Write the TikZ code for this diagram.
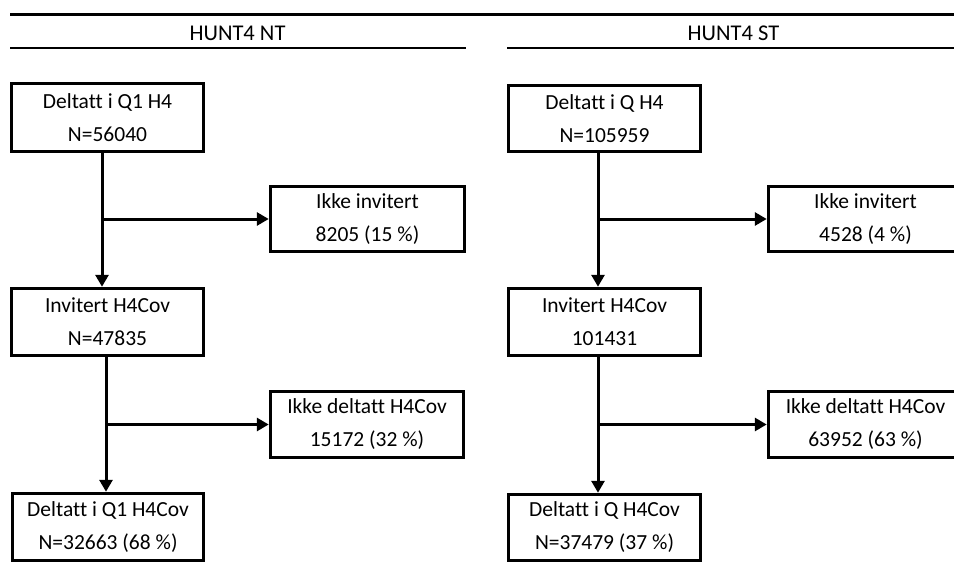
\documentclass[tikz,border=0pt]{standalone}
\usepackage{fontspec}
\setmainfont[Ligatures=NoCommon]{Carlito}
\usetikzlibrary{arrows.meta}
\begin{document}
\begin{tikzpicture}[x=1pt,y=-1pt,
  box/.style={draw=black,line width=3.5pt,inner sep=0pt,align=center,
    font=\fontsize{21.5}{33}\selectfont},
  arr/.style={draw=black,line width=3pt,-{Triangle[length=12pt,width=13pt]}},
  rule/.style={draw=black,line width=3pt},
  title/.style={font=\fontsize{22.5}{24}\selectfont,inner sep=0pt}]
\clip (0,0) rectangle (954,586);
\fill[white] (0,0) rectangle (954,586);
% header
\draw[rule] (10,15) -- (954,15);
\draw[rule,line width=2.5pt] (10,48) -- (466,48);
\draw[rule,line width=2.5pt] (507,48) -- (954,48);
\node[title] (tNT) at (237.5,33) {HUNT4 NT};
\node[title] (tST) at (733.5,33) {HUNT4 ST};
% left column
\node[box,minimum width=192pt,minimum height=68pt] (L1) at (107.5,117.5) {Deltatt i Q1 H4\\N=56040};
\node[box,minimum width=194pt,minimum height=65pt] (LI) at (367.5,219) {Ikke invitert\\8205 (15 \%)};
\node[box,minimum width=192pt,minimum height=67pt] (L2) at (107.5,322) {Invitert H4Cov\\N=47835};
\node[box,minimum width=193pt,minimum height=66pt] (LD) at (367,424.5) {Ikke deltatt H4Cov\\15172 (32 \%)};
\node[box,minimum width=191pt,minimum height=67pt] (L3) at (108,527) {Deltatt i Q1 H4Cov\\N=32663 (68 \%)};
% right column
\node[box,minimum width=192pt,minimum height=66pt] (R1) at (604.5,118.5) {Deltatt i Q H4\\N=105959};
\node[box,minimum width=194pt,minimum height=65pt] (RI) at (865.5,219) {Ikke invitert\\4528 (4 \%)};
\node[box,minimum width=192pt,minimum height=67pt] (R2) at (604.5,322) {Invitert H4Cov\\101431};
\node[box,minimum width=194pt,minimum height=66pt] (RD) at (865.5,424.5) {Ikke deltatt H4Cov\\63952 (63 \%)};
\node[box,minimum width=192pt,minimum height=66pt] (R3) at (604.5,527.5) {Deltatt i Q H4Cov\\N=37479 (37 \%)};
% connectors
\coordinate (xa) at (102,0);
\coordinate (xb) at (106,0);
\coordinate (xc) at (598,0);
\draw[arr] (L1.south -| xa) -- (L2.north -| xa);
\draw[arr] (xa |- LI.west) -- (LI.west);
\draw[arr] (L2.south -| xb) -- (L3.north -| xb);
\draw[arr] (xb |- LD.west) -- (LD.west);
\draw[arr] (R1.south -| xc) -- (R2.north -| xc);
\draw[arr] (xc |- RI.west) -- (RI.west);
\draw[arr] (R2.south -| xc) -- (R3.north -| xc);
\draw[arr] (xc |- RD.west) -- (RD.west);
\end{tikzpicture}
\end{document}
